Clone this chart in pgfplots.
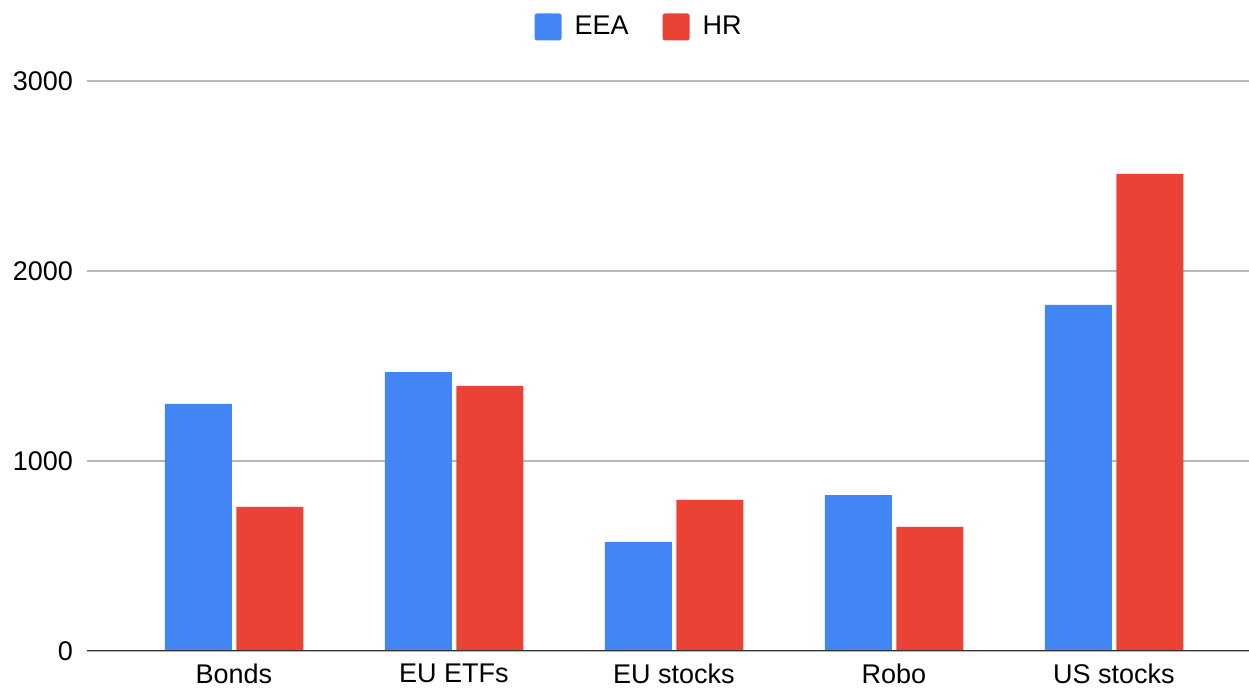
\documentclass[border=0pt]{standalone}
\usepackage{pgfplots}
\pgfplotsset{compat=1.18}
\usepackage{fontspec}
\setmainfont{Liberation Sans}
\definecolor{gblue}{HTML}{4285F4}
\definecolor{gred}{HTML}{EA4335}
\definecolor{gridc}{HTML}{B7B7B7}
\definecolor{axc}{HTML}{333333}
\begin{document}
\fontsize{13.5}{16}\selectfont
\begin{tikzpicture}
\begin{axis}[name=ax, scale only axis, width=581pt, height=285pt,
  xmin=-0.668, xmax=4.614, ymin=0, ymax=3000,
  axis line style={draw=none},
  ybar, bar width=33.5pt,
  xtick={0,1,2,3,4}, xticklabels={Bonds,EU ETFs,EU stocks,Robo,US stocks},
  ytick={0,1000,2000,3000},
  ymajorgrids, grid style={gridc, line width=0.75pt},
  major tick length=0pt,
  scaled y ticks=false,
  /pgf/number format/1000 sep={},
  /pgf/number format/assume math mode=true,
  xticklabel style={yshift=-1.8pt, font=\fontsize{13.5}{16}\selectfont},
  yticklabel style={xshift=-2.3pt, font=\fontsize{13.5}{16}\selectfont},
  legend style={draw=none, fill=none, at={(0.476,1)}, anchor=center, yshift=27pt,
    legend columns=-1, font=\fontsize{13.5}{16}\selectfont,
    /tikz/every odd column/.append style={column sep=4.5pt},
    /tikz/every even column/.append style={column sep=15pt}},
  legend image code/.code={\fill[#1, rounded corners=1.2pt] (0pt,-6.75pt) rectangle (13.5pt,6.75pt);},
]
\addplot[fill=gblue, draw=none, bar shift=-17.75pt] coordinates {(0,1300) (1,1468) (2,574) (3,821) (4,1821)};
\addplot[fill=gred, draw=none, bar shift=18pt] coordinates {(0,758) (1,1395) (2,795) (3,653) (4,2511)};
\legend{EEA,HR}
\draw[axc, line width=1pt] (rel axis cs:0,0) -- (rel axis cs:1,0);
\end{axis}
\pgfresetboundingbox
\path[use as bounding box] ([xshift=-43.5pt,yshift=-19pt]ax.south west) rectangle ([yshift=40.5pt]ax.north east);
\end{tikzpicture}
\end{document}
